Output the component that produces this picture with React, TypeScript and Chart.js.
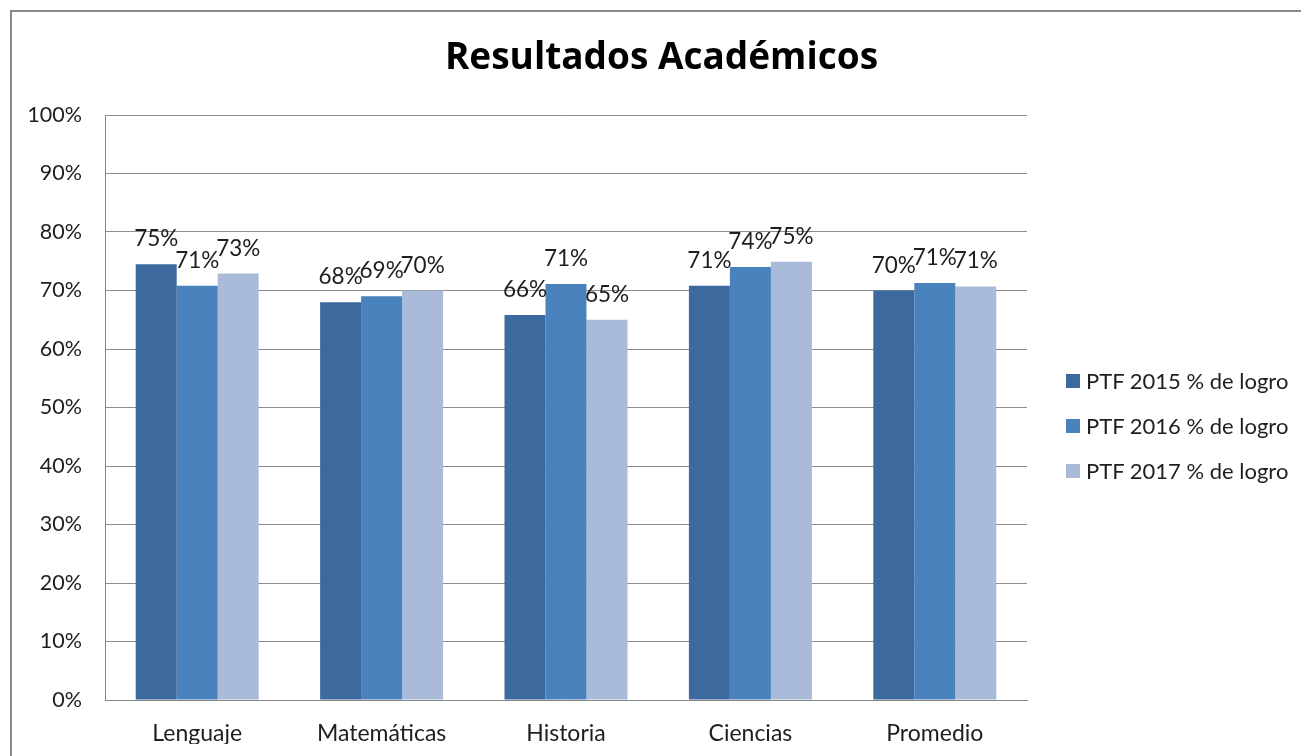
import React, { useEffect, useRef } from "react";
import { Chart, registerables } from "chart.js";

Chart.register(...registerables);

const categories = ["Lenguaje", "Matemáticas", "Historia", "Ciencias", "Promedio"];
const seriesLabels = ["PTF 2015 % de logro", "PTF 2016 % de logro", "PTF 2017 % de logro"];
const values2015 = [74.5, 68.0, 65.8, 70.8, 70.0];
const values2016 = [70.8, 69.0, 71.1, 74.0, 71.3];
const values2017 = [72.9, 70.0, 65.0, 74.9, 70.7];
const seriesColors = ["#3c6a9e", "#4a82bd", "#aabad9"];
const titleText = "Resultados Académicos";

const FONT = "Lato, 'Noto Sans', sans-serif";
const TITLE_FONT = "'Open Sans', Lato, sans-serif";

const dataLabelPlugin = {
  id: "dataLabels",
  afterDatasetsDraw(chart: any) {
    const ctx = chart.ctx;
    ctx.save();
    ctx.font = `22.5px ${FONT}`;
    ctx.fillStyle = "#1e1e1e";
    ctx.textAlign = "center";
    ctx.textBaseline = "alphabetic";
    chart.data.datasets.forEach((ds: any, i: number) => {
      const meta = chart.getDatasetMeta(i);
      meta.data.forEach((el: any, j: number) => {
        const v = ds.data[j];
        ctx.fillText(Math.round(v) + "%", el.x, el.y - 18);
      });
    });
    ctx.restore();
  },
};

const titlePlugin = {
  id: "centeredTitle",
  afterDraw(chart: any) {
    const ctx = chart.ctx;
    ctx.save();
    ctx.font = `bold 37px ${TITLE_FONT}`;
    ctx.fillStyle = "#000";
    ctx.textAlign = "center";
    ctx.textBaseline = "alphabetic";
    ctx.fillText(titleText, 661.5, 69);
    ctx.restore();
  },
};

export default function App() {
  const ref = useRef<HTMLCanvasElement | null>(null);
  useEffect(() => {
    if (!ref.current) return;
    const allValues = [values2015, values2016, values2017];
    const chart = new Chart(ref.current, {
      type: "bar",
      data: {
        labels: categories,
        datasets: allValues.map((vals, i) => ({
          label: seriesLabels[i],
          data: vals,
          backgroundColor: seriesColors[i],
          borderWidth: 0,
          categoryPercentage: 0.667,
          barPercentage: 1,
        })),
      },
      options: {
        responsive: false,
        animation: false,
        layout: { padding: { left: 0, right: 274, top: 115, bottom: 12 } },
        plugins: {
          legend: { display: false },
          tooltip: { enabled: false },
          title: { display: false },
        },
        scales: {
          x: {
            grid: { display: false, drawTicks: false },
            border: { display: true, color: "#868686", width: 1 },
            ticks: { color: "#1e1e1e", font: { family: FONT, size: 23 }, padding: 20 },
            afterFit: (s: any) => {
              s.height = 44;
            },
          },
          y: {
            min: 0,
            max: 100,
            grid: { color: "#8c8c8c", lineWidth: 1, drawTicks: false },
            border: { display: true, color: "#868686", width: 1 },
            ticks: {
              stepSize: 10,
              color: "#1e1e1e",
              font: { family: FONT, size: 21.5 },
              padding: 23,
              callback: (v: any) => v + "%",
            },
            afterFit: (s: any) => {
              s.width = 105;
            },
          },
        },
      },
      plugins: [dataLabelPlugin, titlePlugin],
    });
    return () => chart.destroy();
  }, []);

  return (
    <div
      style={{
        position: "absolute",
        left: 0,
        top: 0,
        width: 1301,
        height: 756,
        overflow: "hidden",
        background: "#fff",
      }}
    >
      <div
        style={{
          position: "absolute",
          left: 10,
          top: 10,
          width: 1400,
          height: 900,
          borderLeft: "2px solid #8a8a8a",
          borderTop: "2px solid #8a8a8a",
        }}
      />
      <canvas ref={ref} width={1301} height={756} style={{ position: "absolute", left: 0, top: 0 }} />
      <div style={{ position: "absolute", left: 1066, top: 358, fontFamily: FONT, fontSize: 22, color: "#1e1e1e" }}>
        {seriesLabels.map((lab, i) => (
          <div key={lab} style={{ height: 45, display: "flex", alignItems: "center", whiteSpace: "nowrap" }}>
            <span style={{ width: 14, height: 14, background: seriesColors[i], display: "inline-block", marginRight: 6, flex: "none" }} />
            <span>{lab}</span>
          </div>
        ))}
      </div>
    </div>
  );
}
